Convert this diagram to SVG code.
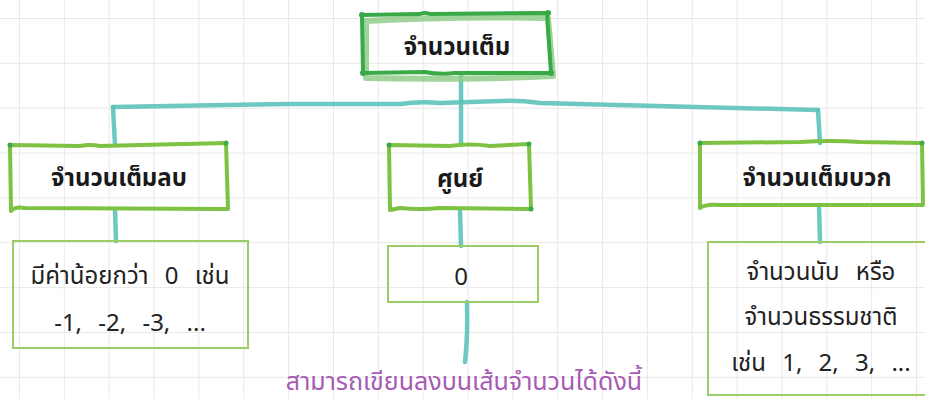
<svg xmlns="http://www.w3.org/2000/svg" width="925" height="399" viewBox="0 0 925 399">
<defs>
<pattern id="grid" x="19" y="18" width="44.85" height="44.85" patternUnits="userSpaceOnUse">
<path d="M0 0 H44.85 M0 0 V44.85" fill="none" stroke="#e8e8e8" stroke-width="2"/>
</pattern>
<style>
.conn{fill:none;stroke:#5cc2b9;stroke-width:4.5;stroke-linecap:round;stroke-linejoin:round;opacity:0.9}
.hdr{fill:none;stroke:#7dc242;stroke-width:4;stroke-linecap:round;stroke-linejoin:round}
.box{fill:none;stroke:#9ccc65;stroke-width:2}
.dot{fill:#3aaa48}
.ht{font-family:"Noto Sans","Noto Sans Thai","DejaVu Sans",sans-serif;font-weight:bold;font-size:24px;fill:#1a1a1a;text-anchor:middle}
.bt{font-family:"Noto Sans","Noto Sans Thai","DejaVu Sans",sans-serif;font-size:24px;fill:#222;text-anchor:middle;word-spacing:10px}
.pt{font-family:"Noto Sans","Noto Sans Thai","DejaVu Sans",sans-serif;font-size:25px;fill:#a65bb4;text-anchor:middle}
</style>
</defs>
<rect width="925" height="399" fill="#ffffff"/>
<rect width="925" height="399" fill="url(#grid)"/>

<g id="connectors">
<path class="conn" d="M113 107 L290 104 L400 104 Q420 101 440 103 L500 101 Q520 100 540 103 L818 110"/>
<path class="conn" d="M461 74 L461 145"/>
<path class="conn" d="M113 107 L115 145"/>
<path class="conn" d="M818 110 L820 143"/>
<path class="conn" d="M115 209 L116 241"/>
<path class="conn" d="M460 210 L461 246"/>
<path class="conn" d="M819 205 L820 242"/>
<path class="conn" d="M467 302 Q468 335 465 362"/>
</g>

<g id="node-integer">
<path d="M366 21 Q450 16 548 18 L553 76 Q470 80 366 78 Z" fill="none" stroke="#8fcc8a" stroke-width="6" stroke-linecap="round" stroke-linejoin="round" opacity="0.85"/>
<path d="M362 15 L420 14 Q425 12 430 14 L547 13 L551 73 L455 73 Q440 75 425 72 L363 73 Z" fill="none" stroke="#3aaa48" stroke-width="4" stroke-linecap="round" stroke-linejoin="round"/>
<circle class="dot" cx="362" cy="15" r="3"/><circle class="dot" cx="548" cy="13" r="3"/><circle class="dot" cx="363" cy="73" r="3"/><circle class="dot" cx="551" cy="73" r="3"/>
<text class="ht" x="457" y="55" font-size="26">จำนวนเต็ม</text>
</g>

<g id="node-negative">
<path class="hdr" d="M10 145 L80 146 Q90 144 100 146 L226 143 L228 209 L25 208 Q15 206 11 211 Z"/>
<circle class="dot" cx="10" cy="145" r="2.5"/><circle class="dot" cx="226" cy="143" r="2.5"/>
<text class="ht" x="119" y="186">จำนวนเต็มลบ</text>
</g>
<g id="box-negative">
<rect class="box" x="13" y="241" width="235" height="107"/>
<text class="bt" x="130" y="284">มีค่าน้อยกว่า 0 เช่น</text>
<text class="bt" x="130" y="331">-1, -2, -3, ...</text>
</g>

<g id="node-zero">
<path class="hdr" d="M389 145 L450 146 Q470 143 490 146 L529 144 L531 209 L440 208 Q420 210 400 208 L390 210 Z"/>
<circle class="dot" cx="389" cy="145" r="2.5"/><circle class="dot" cx="529" cy="144" r="2.5"/><circle class="dot" cx="531" cy="209" r="2.5"/>
<text class="ht" x="460" y="187">ศูนย์</text>
</g>
<g id="box-zero">
<rect class="box" x="388" y="246" width="150" height="56"/>
<text class="bt" x="461" y="285">0</text>
</g>

<g id="node-positive">
<path class="hdr" d="M700 143 L800 142 Q830 140 860 142 L922 143 L923 205 L720 205 Q705 204 700 208 Z"/>
<circle class="dot" cx="700" cy="143" r="2.5"/><circle class="dot" cx="922" cy="143" r="2.5"/>
<text class="ht" x="817" y="186">จำนวนเต็มบวก</text>
</g>
<g id="box-positive">
<path class="box" d="M926 242 L708 242 L708 395 L926 395"/>
<text class="bt" x="821" y="280">จำนวนนับ หรือ</text>
<text class="bt" x="821" y="325">จำนวนธรรมชาติ</text>
<text class="bt" x="821" y="371">เช่น 1, 2, 3, ...</text>
</g>

<text class="pt" x="464" y="390">สามารถเขียนลงบนเส้นจำนวนได้ดังนี้</text>
</svg>
